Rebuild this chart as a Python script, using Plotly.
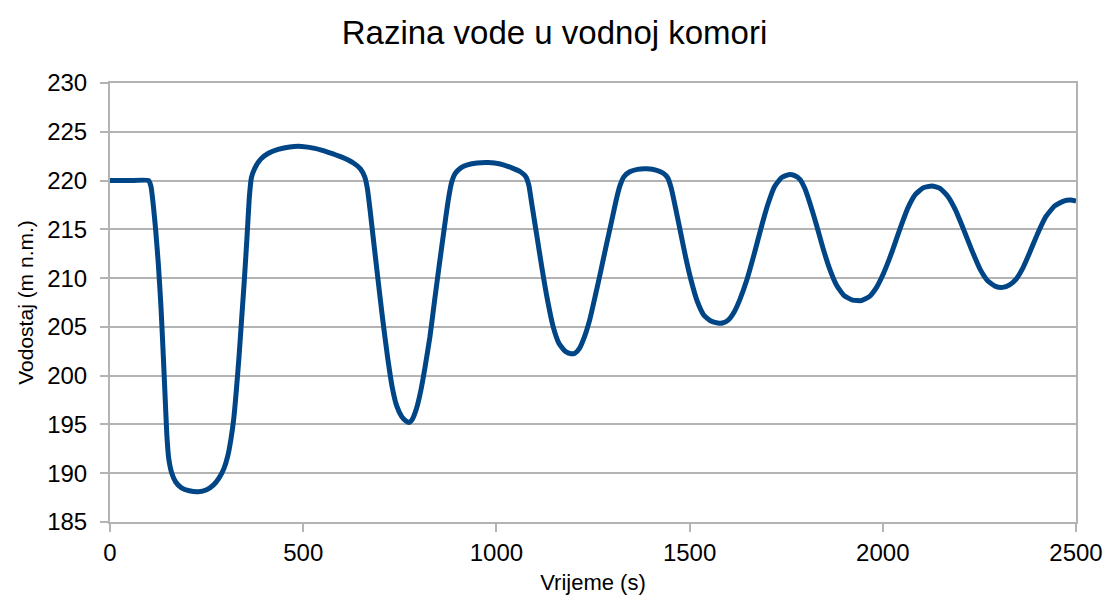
import plotly.graph_objects as go

# Water level in the surge chamber over time
vrijeme_s = [
    0, 50, 100, 106, 112, 118, 125, 132, 138, 143, 147, 152, 160, 170, 185,
    205, 229, 250, 268, 282, 295, 305, 313, 320, 327, 334, 341, 348, 355, 361,
    366, 374, 390, 410, 435, 465, 496, 530, 565, 600, 630, 648, 659, 666, 673,
    681, 692, 705, 718, 730, 742, 755, 766, 774, 782, 793, 804, 815, 828, 840,
    852, 864, 875, 884, 893, 908, 925, 950, 979, 1010, 1040, 1062, 1076, 1084,
    1092, 1104, 1118, 1132, 1147, 1162, 1178, 1193, 1203, 1215, 1228, 1242,
    1256, 1270, 1284, 1298, 1310, 1320, 1330, 1345, 1365, 1390, 1415, 1432,
    1443, 1452, 1462, 1475, 1490, 1505, 1520, 1537, 1555, 1573, 1585, 1600,
    1615, 1630, 1648, 1666, 1684, 1702, 1720, 1738, 1756, 1772, 1786, 1798,
    1812, 1828, 1845, 1862, 1880, 1900, 1922, 1945, 1965, 1983, 2002, 2022,
    2044, 2065, 2085, 2105, 2127, 2148, 2168, 2188, 2208, 2230, 2252, 2272,
    2292, 2310, 2328, 2345, 2362, 2380, 2400, 2422, 2445, 2468, 2486, 2500,
]
vodostaj_m = [
    220.0, 220.0, 220.0, 219.4, 217.5, 215.0, 211.5, 207.0, 202.0, 197.5,
    194.0, 191.5, 190.0, 189.1, 188.5, 188.2, 188.1, 188.3, 188.8, 189.5,
    190.5, 191.8, 193.5, 195.5, 198.5, 202.0, 206.0, 210.0, 214.5, 218.5,
    220.3, 221.2, 222.2, 222.8, 223.2, 223.45, 223.5, 223.3, 222.9, 222.4,
    221.8, 221.2, 220.4, 219.2, 217.0, 214.2, 210.4, 206.0, 202.0, 198.9,
    196.9, 195.8, 195.35, 195.2, 195.5, 196.6, 198.4, 200.8, 204.0, 207.7,
    211.3, 214.8, 217.9, 219.8, 220.7, 221.3, 221.6, 221.8, 221.85, 221.7,
    221.3, 220.9, 220.4, 219.5, 217.5, 214.5, 211.0, 207.8, 205.0, 203.3,
    202.5, 202.25, 202.3, 202.8, 204.0, 205.8, 208.2, 210.7, 213.3, 215.8,
    218.0, 219.5, 220.4, 220.9, 221.15, 221.2, 221.05, 220.75, 220.3, 219.3,
    217.5, 215.0, 212.1, 209.6, 207.6, 206.2, 205.6, 205.4, 205.4, 205.7,
    206.5, 207.8, 209.8, 212.3, 215.0, 217.5, 219.4, 220.3, 220.6, 220.5,
    220.1, 219.2, 217.6, 215.5, 213.1, 211.0, 209.3, 208.2, 207.75, 207.7,
    208.1, 209.0, 210.5, 212.5, 215.0, 217.2, 218.6, 219.25, 219.45, 219.2,
    218.4, 217.0, 215.1, 212.9, 210.9, 209.7, 209.15, 209.05, 209.3, 209.9,
    211.0, 212.6, 214.5, 216.3, 217.4, 217.9, 218.0, 217.9,
]

x_ticks = [0, 500, 1000, 1500, 2000, 2500]
y_ticks = [185, 190, 195, 200, 205, 210, 215, 220, 225, 230]

grid = "#b3b3b3"
font = "Liberation Sans, Arial, sans-serif"

fig = go.Figure(
    go.Scatter(
        x=vrijeme_s,
        y=vodostaj_m,
        mode="lines",
        line=dict(color="#004586", width=5, shape="spline", smoothing=0.5),
        showlegend=False,
        hoverinfo="x+y",
    )
)

fig.update_layout(
    width=1109,
    height=606,
    margin=dict(l=110, r=33, t=83, b=84, autoexpand=False),
    paper_bgcolor="white",
    plot_bgcolor="white",
    font=dict(family=font, color="black"),
    title=dict(
        text="Razina vode u vodnoj komori",
        x=0.5,
        xanchor="center",
        y=0.947,
        yanchor="middle",
        font=dict(size=33, family=font, color="black"),
    ),
)

fig.update_xaxes(
    range=[0, 2500],
    tickmode="array",
    tickvals=x_ticks,
    ticks="outside",
    ticklen=8,
    tickcolor=grid,
    tickwidth=2,
    showgrid=False,
    showline=True,
    linecolor=grid,
    linewidth=2,
    mirror=True,
    zeroline=False,
    automargin=False,
    tickfont=dict(size=24),
    title=dict(text="Vrijeme (s)", font=dict(size=22), standoff=10),
)

fig.update_yaxes(
    range=[185, 230],
    tickmode="array",
    tickvals=y_ticks,
    ticks="outside",
    ticklen=8,
    tickcolor=grid,
    tickwidth=2,
    showgrid=True,
    gridcolor=grid,
    gridwidth=2,
    showline=True,
    linecolor=grid,
    linewidth=2,
    mirror=True,
    zeroline=False,
    automargin=False,
    tickfont=dict(size=24),
    ticklabelstandoff=8,
    title=dict(text="Vodostaj (m n.m.)", font=dict(size=21), standoff=8),
)

fig.write_html("out.html")
